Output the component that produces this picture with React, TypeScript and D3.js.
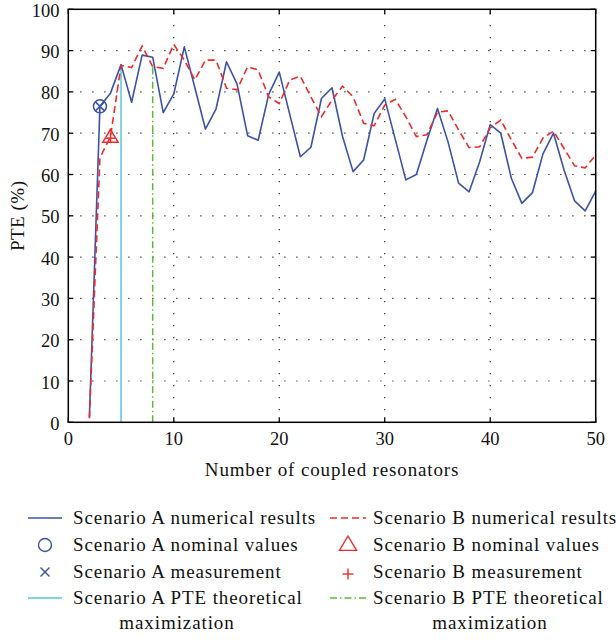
import React from "react";
import * as d3 from "d3";

const resonators: number[] = [2,3,4,5,6,7,8,9,10,11,12,13,14,15,16,17,18,19,20,21,22,23,24,25,26,27,28,29,30,31,32,33,34,35,36,37,38,39,40,41,42,43,44,45,46,47,48,49,50];
const scenarioA: number[] = [1.2,76.5,79.7,86.6,77.5,88.9,88.4,75.0,79.5,90.9,81.0,71.0,75.8,87.3,81.9,69.4,68.3,79.4,84.8,74.5,64.3,66.6,78.4,81.0,69.2,60.7,63.5,74.8,78.3,68.5,58.7,60.0,68.3,76.0,67.9,57.9,55.8,63.1,72.1,70.0,59.1,53.0,55.6,65.0,70.0,61.1,53.6,51.2,56.0];
const scenarioB: number[] = [1.0,64.0,69.2,86.4,85.9,91.1,86.1,85.7,91.5,87.7,82.9,87.7,87.7,80.9,80.5,86.1,85.3,78.8,77.2,82.9,83.8,78.8,74.0,78.0,81.4,78.8,72.4,71.8,76.8,78.2,74.0,69.2,69.6,75.1,75.4,70.8,66.5,66.7,71.3,73.2,68.4,63.9,64.2,68.8,70.5,66.3,62.1,61.6,64.7];
const nominalA = { n: 3, v: 76.5 };
const measureA = { n: 3, v: 76.5 };
const nominalB = { n: 4, v: 69.0 };
const measureB = { n: 4, v: 68.8 };
const maxA = { n: 5, v: 86.6 };
const maxB = { n: 8, v: 86.3 };
const xTicks: number[] = [0,10,20,30,40,50];
const yTicks: number[] = [0,10,20,30,40,50,60,70,80,90,100];
const legendLeft: string[] = ["Scenario A numerical results","Scenario A nominal values","Scenario A measurement","Scenario A PTE theoretical"];
const legendRight: string[] = ["Scenario B numerical results","Scenario B nominal values","Scenario B measurement","Scenario B PTE theoretical"];

const BLUE = "#3b52a8";
const RED = "#ee2b2b";
const CYAN = "#58c4dc";
const GREEN = "#5cb83a";
const FONT = "Liberation Serif, Times New Roman, serif";

export default function App() {
  const W = 616, H = 640;
  const x = d3.scaleLinear().domain([0, 50]).range([68.3, 595.7]);
  const y = d3.scaleLinear().domain([0, 100]).range([422.3, 9.3]);
  const [x0, x1] = x.range();
  const [y0, y1] = y.range();
  const lineGen = d3.line<number>().x((_, i) => x(resonators[i])).y((d) => y(d));
  const tickLen = 5;

  const legendRowsY = [518, 545, 572, 598];
  const lx = 45, rx = 348;
  const ltx = 73, rtx = 373;

  const triPath = (cx: number, cy: number, s: number) =>
    `M${cx},${cy - s} L${cx + s * 0.95},${cy + s * 0.6} L${cx - s * 0.95},${cy + s * 0.6} Z`;

  const ts: React.CSSProperties = { fontFamily: FONT };

  return (
    <div style={{ position: "absolute", left: 0, top: 0 }}>
      <svg width={W} height={H} style={{ display: "block", background: "#fff", fontFamily: FONT }}>
        {/* grid */}
        {xTicks.filter((t) => t > 0 && t < 50).map((t) => (
          <line key={"gx" + t} x1={x(t)} x2={x(t)} y1={y0} y2={y1} stroke="#222" strokeWidth={1.2} strokeDasharray="1.2,10.8" />
        ))}
        {yTicks.filter((t) => t > 0 && t < 100).map((t) => (
          <line key={"gy" + t} x1={x0} x2={x1} y1={y(t)} y2={y(t)} stroke="#222" strokeWidth={1.2} strokeDasharray="1.2,10.8" />
        ))}
        {/* theoretical maximization lines */}
        <line x1={x(maxA.n)} x2={x(maxA.n)} y1={y(0)} y2={y(maxA.v)} stroke={CYAN} strokeWidth={1.5} />
        <line x1={x(maxB.n)} x2={x(maxB.n)} y1={y(0)} y2={y(maxB.v)} stroke={GREEN} strokeWidth={1.5} strokeDasharray="7,3,1.5,3" />
        {/* series */}
        <path d={lineGen(scenarioA) || ""} fill="none" stroke={BLUE} strokeWidth={1.6} strokeLinejoin="round" />
        <path d={lineGen(scenarioB) || ""} fill="none" stroke={RED} strokeWidth={1.6} strokeDasharray="7,4" />
        {/* markers */}
        <circle cx={x(nominalA.n)} cy={y(nominalA.v)} r={6.5} fill="none" stroke={BLUE} strokeWidth={1.5} />
        <g stroke={BLUE} strokeWidth={1.5}>
          <line x1={x(measureA.n) - 4.5} x2={x(measureA.n) + 4.5} y1={y(measureA.v) - 4.5} y2={y(measureA.v) + 4.5} />
          <line x1={x(measureA.n) - 4.5} x2={x(measureA.n) + 4.5} y1={y(measureA.v) + 4.5} y2={y(measureA.v) - 4.5} />
        </g>
        <path d={triPath(x(nominalB.n), y(nominalB.v), 8)} fill="none" stroke={RED} strokeWidth={1.5} />
        <g stroke={RED} strokeWidth={1.5}>
          <line x1={x(measureB.n) - 5} x2={x(measureB.n) + 5} y1={y(measureB.v)} y2={y(measureB.v)} />
          <line x1={x(measureB.n)} x2={x(measureB.n)} y1={y(measureB.v) - 5} y2={y(measureB.v) + 5} />
        </g>
        {/* frame */}
        <rect x={x0} y={y1} width={x1 - x0} height={y0 - y1} fill="none" stroke="#000" strokeWidth={1.5} />
        {/* ticks */}
        {xTicks.map((t) => (
          <g key={"tx" + t}>
            <line x1={x(t)} x2={x(t)} y1={y0} y2={y0 - tickLen} stroke="#000" strokeWidth={1.3} />
            <line x1={x(t)} x2={x(t)} y1={y1} y2={y1 + tickLen} stroke="#000" strokeWidth={1.3} />
            <text x={x(t)} y={445} textAnchor="middle" fontSize={18.5} fill="#111" style={ts}>{t}</text>
          </g>
        ))}
        {yTicks.map((t) => (
          <g key={"ty" + t}>
            <line x1={x0} x2={x0 + tickLen} y1={y(t)} y2={y(t)} stroke="#000" strokeWidth={1.3} />
            <line x1={x1} x2={x1 - tickLen} y1={y(t)} y2={y(t)} stroke="#000" strokeWidth={1.3} />
            <text x={59.5} y={y(t) + 7.5} textAnchor="end" fontSize={18.5} fill="#111" style={ts}>{t}</text>
          </g>
        ))}
        {/* axis titles */}
        <text x={(x0 + x1) / 2} y={476} textAnchor="middle" fontSize={19} letterSpacing={0.85} fill="#111" style={ts}>Number of coupled resonators</text>
        <text transform={`translate(24,${(y0 + y1) / 2}) rotate(-90)`} textAnchor="middle" fontSize={19} letterSpacing={0.5} fill="#111" style={ts}>PTE (%)</text>
        {/* legend symbols */}
        <line x1={28} x2={62} y1={legendRowsY[0]} y2={legendRowsY[0]} stroke={BLUE} strokeWidth={1.5} />
        <circle cx={lx} cy={legendRowsY[1]} r={6.5} fill="none" stroke={BLUE} strokeWidth={1.4} />
        <g stroke={BLUE} strokeWidth={1.4}>
          <line x1={lx - 4.5} x2={lx + 4.5} y1={legendRowsY[2] - 4.5} y2={legendRowsY[2] + 4.5} />
          <line x1={lx - 4.5} x2={lx + 4.5} y1={legendRowsY[2] + 4.5} y2={legendRowsY[2] - 4.5} />
        </g>
        <line x1={28} x2={62} y1={legendRowsY[3]} y2={legendRowsY[3]} stroke={CYAN} strokeWidth={1.5} />
        <line x1={330} x2={366} y1={legendRowsY[0]} y2={legendRowsY[0]} stroke={RED} strokeWidth={1.5} strokeDasharray="7,4" />
        <path d={triPath(rx, legendRowsY[1], 9)} fill="none" stroke={RED} strokeWidth={1.4} />
        <g stroke={RED} strokeWidth={1.4}>
          <line x1={rx - 5.5} x2={rx + 5.5} y1={legendRowsY[2] + 2} y2={legendRowsY[2] + 2} />
          <line x1={rx} x2={rx} y1={legendRowsY[2] - 3.5} y2={legendRowsY[2] + 7.5} />
        </g>
        <line x1={330} x2={366} y1={legendRowsY[3]} y2={legendRowsY[3]} stroke={GREEN} strokeWidth={1.5} strokeDasharray="7,3,1.5,3" />
        {/* legend text */}
        {legendLeft.map((s, i) => (
          <text key={"ll" + i} x={ltx} y={legendRowsY[i] + 6} fontSize={19} letterSpacing={0.9} fill="#111" style={ts}>{s}</text>
        ))}
        {legendRight.map((s, i) => (
          <text key={"lr" + i} x={rtx} y={legendRowsY[i] + 6} fontSize={19} letterSpacing={0.9} fill="#111" style={ts}>{s}</text>
        ))}
        <text x={177} y={629} textAnchor="middle" fontSize={19} letterSpacing={0.9} fill="#111" style={ts}>maximization</text>
        <text x={490} y={629} textAnchor="middle" fontSize={19} letterSpacing={0.9} fill="#111" style={ts}>maximization</text>
      </svg>
    </div>
  );
}
